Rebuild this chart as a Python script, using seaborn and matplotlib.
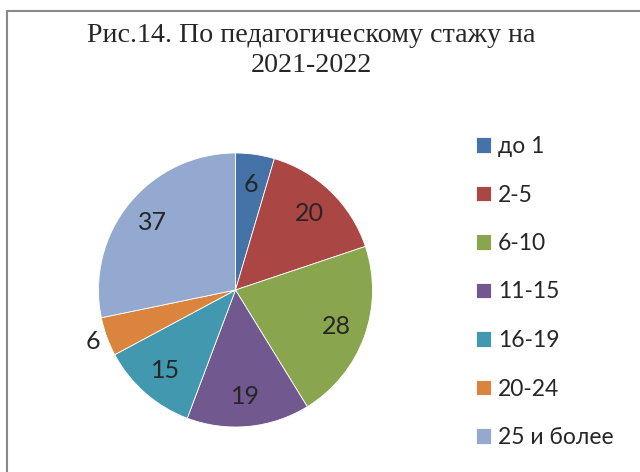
import matplotlib.pyplot as plt
import seaborn as sns
from matplotlib.patches import Rectangle
import numpy as np

# данные диаграммы
categories = ["до 1", "2-5", "6-10", "11-15", "16-19", "20-24", "25 и более"]
values = [6, 20, 28, 19, 15, 6, 37]
colors = ["#4572A7", "#AA4643", "#89A54E", "#71588F", "#4198AF", "#DB843D", "#93A9CF"]
title_lines = ["Рис.14. По педагогическому стажу на", "2021-2022"]

sns.set_style("white")
sans = ["Lato", "Noto Sans", "DejaVu Sans"]
serif = ["Liberation Serif", "DejaVu Serif"]

fig = plt.figure(figsize=(6.4, 4.72), dpi=100)

# рамка вокруг диаграммы
fig.patches.append(Rectangle((7 / 640, -0.1), 1.0, 1 - 11 / 472 + 0.1,
                             transform=fig.transFigure, fill=False,
                             edgecolor="#898989", linewidth=1.5))

# заголовок в две строки
fig.text(311 / 640, 1 - 42 / 472, title_lines[0], ha="center", va="baseline",
         fontsize=20.2, family=serif)
fig.text(311 / 640, 1 - 72 / 472, title_lines[1], ha="center", va="baseline",
         fontsize=20.2, family=serif)

cx, cy, r = 235.5 / 640, 1 - 290 / 472, 137
ax = fig.add_axes([cx - r / 640, cy - r / 472, 2 * r / 640, 2 * r / 472])
wedges, _ = ax.pie(values, colors=sns.color_palette(colors), startangle=90,
                   counterclock=False, radius=1,
                   wedgeprops=dict(edgecolor="white", linewidth=0.6))
ax.set_xlim(-1, 1)
ax.set_ylim(-1, 1)
ax.axis("off")

# подписи значений
for w, v in zip(wedges, values):
    mid = np.deg2rad((w.theta1 + w.theta2) / 2)
    dist = 1.11 if v / sum(values) < 0.05 and w.theta1 < 0 else 0.78
    ax.text(dist * np.cos(mid), dist * np.sin(mid), str(v), ha="center", va="center",
            fontsize=18, family=sans, clip_on=False)

fig.legend(wedges, categories, loc="upper left",
           bbox_to_anchor=(476 / 640, 1 - 136 / 472), frameon=False,
           prop=dict(family=sans, size=16.5), handlelength=0.66, handleheight=0.66,
           handletextpad=0.31, labelspacing=1.2, borderpad=0, borderaxespad=0)

fig.savefig("out.png", dpi=100)
